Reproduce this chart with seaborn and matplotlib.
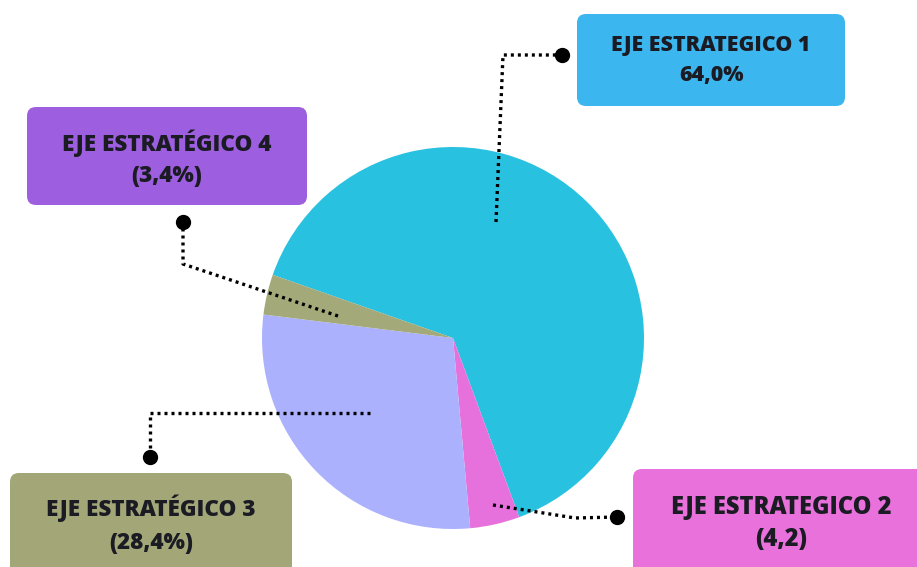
"""
ejes estrategicos - pie with callout boxes
"""

import matplotlib.pyplot as plt
from matplotlib.patches import FancyBboxPatch
import seaborn as sns

########
# Data #
########

ejes = ["EJE ESTRATEGICO 1", "EJE ESTRATEGICO 2", "EJE ESTRATÉGICO 3", "EJE ESTRATÉGICO 4"]
valores = [64.0, 4.2, 28.4, 3.4]
etiquetas = ["64,0%", "(4,2)", "(28,4%)", "(3,4%)"]
colores_pie = ["#29C1E0", "#E771DC", "#ABB1FD", "#A4A979"]
colores_caja = ["#3BB6EF", "#E871DB", "#A3A778", "#9E5EE0"]

##########
# Layout #
##########

W, H = 917, 567
centro = (453, H - 338)
radio = 191

# box: x0, y0 (top, pixels from top), width, height, text centre x, line ys, font size
cajas = [
    (577, 14, 268, 92, 711, (45, 75), 15.4),
    (633, 469, 300, 110, 781, (507, 539), 17.0),
    (10, 473, 282, 110, 151, (508, 543), 16.2),
    (27, 107, 280, 98, 167, (143, 176), 16.2),
]
# leader lines (pixels from top), last point gets the dot
lineas = [
    [(496, 222), (503, 55), (562, 55)],
    [(493, 505), (575, 518), (617, 517)],
    [(370, 413), (150, 413), (150, 457)],
    [(338, 316), (183, 264), (183, 222)],
]

#########
# Plots #
#########

sns.set_theme(style="white")
plt.rcParams["font.family"] = ["Open Sans", "DejaVu Sans"]

fig = plt.figure(figsize=(W / 100, H / 100), dpi=100)
ax = fig.add_axes([0, 0, 1, 1])

ax.pie(
    valores,
    colors=sns.color_palette(colores_pie),
    startangle=160.7,
    counterclock=False,
    center=centro,
    radius=radio,
    wedgeprops={"linewidth": 0},
)
ax.set_xlim(0, W)
ax.set_ylim(0, H)
ax.set_aspect("equal")
ax.axis("off")

for (x0, y0, w, h, tx, ys, fs), color, eje, etq in zip(cajas, colores_caja, ejes, etiquetas):
    ax.add_patch(
        FancyBboxPatch(
            (x0, H - y0 - h), w, h,
            boxstyle="round,pad=0,rounding_size=9",
            facecolor=color, edgecolor="none", zorder=3,
        )
    )
    for txt, y in zip((eje, etq), ys):
        ax.text(tx, H - y, txt, ha="center", va="center", fontsize=fs,
                fontweight=800, color="#1b1b24", zorder=4)

for pts in lineas:
    xs = [p[0] for p in pts]
    ys = [H - p[1] for p in pts]
    ax.plot(xs, ys, color="black", lw=2.4, linestyle=(0, (0.9, 1.2)),
            solid_capstyle="butt", zorder=5)
    ax.plot(xs[-1], ys[-1], "o", color="black", markersize=10, zorder=6)

fig.savefig("out.png", dpi=100)
